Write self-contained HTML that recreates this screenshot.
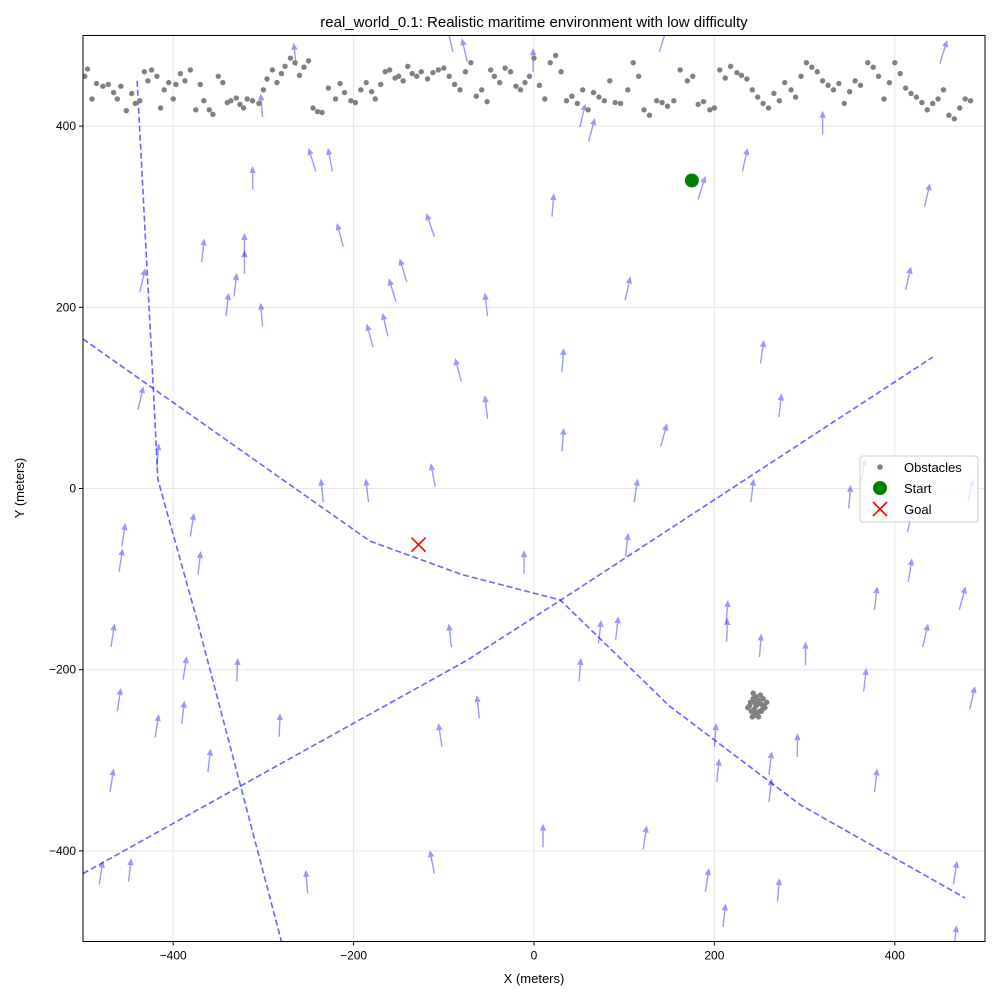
<!DOCTYPE html>
<html><head><meta charset="utf-8"><style>
body{margin:0;background:#fff;}
svg{display:block;font-family:"Liberation Sans","DejaVu Sans",sans-serif;}
</style></head><body>
<svg id="chart" width="1000" height="1000" viewBox="0 0 1000 1000" xmlns="http://www.w3.org/2000/svg">
<rect width="1000" height="1000" fill="#fff"/>
<g id="grid"></g>
<g id="plot"></g>
<rect x="83" y="35.5" width="902" height="906" fill="none" stroke="#000" stroke-width="1"/>
<g id="ticks"></g>
<text x="534" y="27" text-anchor="middle" font-size="15">real_world_0.1: Realistic maritime environment with low difficulty</text>
<text x="534" y="983" text-anchor="middle" font-size="13">X (meters)</text>
<text x="24" y="488" text-anchor="middle" font-size="13" transform="rotate(-90 24 488)">Y (meters)</text>
<g>
<rect x="860" y="456" width="118" height="66" rx="3" fill="#fff" fill-opacity="0.8" stroke="#ccc"/>
<g><circle cx="880" cy="467" r="2.8" fill="#808080"/><text x="904" y="472" font-size="13">Obstacles</text></g>
<g><circle cx="880" cy="488" r="7" fill="#008000"/><text x="904" y="493" font-size="13">Start</text></g>
<g><path d="M873,502 L887,516 M887,502 L873,516" stroke="#ff0000" stroke-width="1.6"/><text x="904" y="514" font-size="13">Goal</text></g>
</g>
</svg>
<script>
const xTicks=[-400,-200,0,200,400];
const yTicks=[-400,-200,0,200,400];
const startPt=[175,340];
const goalPt=[-128,-62];
const path1=[[-440,450],[-422,110],[-417,10],[-375,-140],[-280,-500]];
const path2=[[-500,165],[-182,-58],[-80,-95],[29,-123],[150,-240],[295,-349],[478,-452]];
const path3=[[-500,-425],[-75,-190],[30,-123],[442,145]];
const obsX=[-498,-495,-490,-485,-478,-472,-466,-462,-458,-452,-446,-442,-437,-432,-428,-424,-418,-414,-410,-405,-400,-397,-392,-387,-381,-375,-370,-366,-360,-356,-350,-345,-340,-336,-330,-326,-322,-318,-312,-305,-300,-296,-290,-285,-280,-276,-270,-265,-260,-255,-250,-245,-240,-235,-228,-220,-215,-210,-203,-198,-192,-186,-180,-176,-170,-165,-160,-154,-150,-145,-140,-135,-130,-125,-118,-112,-106,-100,-94,-88,-82,-76,-70,-64,-58,-52,-48,-44,-38,-32,-26,-20,-15,-10,-5,0,6,12,18,24,30,36,42,48,54,60,66,72,78,84,90,96,104,110,116,122,128,136,142,148,155,162,170,176,182,188,195,200,206,212,218,225,230,236,242,248,254,260,266,272,278,285,290,296,302,308,314,320,326,332,338,344,350,356,362,370,376,382,388,394,400,406,412,418,424,430,436,442,448,454,460,466,472,478,484,490,496];
const obsY=[455,463,430,447,444,446,437,430,444,417,436,425,428,460,450,462,455,420,440,448,430,446,458,450,462,418,446,428,418,413,455,448,426,428,431,424,420,430,428,425,440,452,462,448,458,466,475,470,456,465,472,420,416,415,442,430,447,437,428,426,440,448,438,430,446,460,462,453,455,450,466,458,455,460,452,459,462,464,455,446,440,460,470,433,440,427,462,455,448,464,460,444,440,448,455,475,445,430,470,478,460,428,433,425,440,418,437,432,428,450,426,425,440,470,455,418,412,428,426,422,428,462,450,455,424,427,418,420,462,453,466,459,456,452,440,432,425,420,436,428,448,440,432,455,470,465,460,450,445,440,447,425,438,450,445,470,465,455,430,448,470,458,442,436,432,426,418,425,430,440,412,408,420,430,428];
const clusterX=[237,240,243,246,249,252,255,258,241,244,247,250,253,256,239,242,245,248,251,254,243,246,249,244,252];
const clusterY=[-242,-236,-232,-230,-234,-238,-240,-236,-246,-244,-248,-246,-244,-242,-240,-252,-250,-238,-228,-232,-226,-240,-252,-236,-246];
const arrowX=[-302,-265,-226,-312,-246,-215,-115,-321,-321,-367,-331,-340,-302,-434,-182,-165,-157,-145,-84,-53,-53,-436,-417,-93,-77,-1,54,64,143,21,186,234,104,253,273,32,32,144,113,242,320,436,454,415,350,365,417,484,417,379,434,475,486,367,379,467,467,301,292,251,262,262,214,214,201,204,211,192,271,123,10,73,92,51,103,-11,-62,-104,-93,-113,-112,-185,-235,-252,-282,-329,-360,-387,-389,-418,-460,-468,-467,-458,-455,-379,-371,-448,-480];
const arrowY=[423,479,363,343,363,280,291,269,250,263,225,203,192,230,169,181,219,241,131,203,90,100,37,495,484,473,412,396,495,313,332,363,221,151,92,54,142,59,-2,-2,404,324,482,232,-9,20,-35,-2,-90,-121,-162,-121,-231,-211,-322,-424,-495,-182,-283,-173,-303,-333,-136,-156,-272,-311,-471,-432,-443,-385,-383,-158,-154,-200,-62,-81,-241,-272,-162,-412,15,-2,-2,-434,-261,-200,-300,-198,-247,-262,-233,-322,-162,-79,-51,-40,-82,-421,-424];
const arrowTilt=[-2,-3,-5,0,-8,-7,-9,0,0,3,3,3,-2,6,-7,-6,-8,-8,-7,-3,-3,6,2,-6,-6,0,6,7,8,2,8,6,6,4,3,2,2,7,4,3,0,6,8,6,2,4,6,6,4,3,6,7,6,3,3,4,3,0,0,2,3,3,2,1,2,3,3,4,2,4,0,3,3,2,3,0,-3,-4,-3,-5,-5,-3,-3,-2,1,1,3,4,3,4,4,4,4,4,4,4,3,3,4];

const NS='http://www.w3.org/2000/svg';
const X0=83,X1=985,Y0=941.5,Y1=35.5;
function sx(v){return X0+(v+500)/1000*(X1-X0);}
function sy(v){return Y0-(v+500)/1000*(Y0-Y1);}
function mk(tag,attrs,parent){const e=document.createElementNS(NS,tag);for(const k in attrs)e.setAttribute(k,attrs[k]);parent.appendChild(e);return e;}
const grid=document.getElementById('grid'),plot=document.getElementById('plot'),ticks=document.getElementById('ticks');
xTicks.forEach(t=>{
  const g=mk('line',{x1:sx(t),x2:sx(t),y1:Y1,y2:Y0,stroke:'#e6e6e6','stroke-width':1},grid);
  
  
  mk('line',{x1:sx(t),x2:sx(t),y1:Y0,y2:Y0+4,stroke:'#000'},ticks);
  const tx=mk('text',{x:sx(t),y:Y0+18,'text-anchor':'middle','font-size':12},ticks);
  tx.textContent=t<0?'\u2212'+(-t):t;
  
  
});
yTicks.forEach(t=>{
  const g=mk('line',{x1:X0,x2:X1,y1:sy(t),y2:sy(t),stroke:'#e6e6e6','stroke-width':1},grid);
  
  
  mk('line',{x1:X0-4,x2:X0,y1:sy(t),y2:sy(t),stroke:'#000'},ticks);
  const tx=mk('text',{x:X0-7,y:sy(t)+4,'text-anchor':'end','font-size':12},ticks);
  tx.textContent=t<0?'\u2212'+(-t):t;
  
  
});
const clip=mk('clipPath',{id:'clp'},plot);mk('rect',{x:X0,y:Y1,width:X1-X0,height:Y0-Y1},clip);
const inner=mk('g',{'clip-path':'url(#clp)'},plot);
for(let i=0;i<arrowX.length;i++){
  const x=arrowX[i],y=arrowY[i],t=arrowTilt[i];
  const tx=sx(x-t/2),ty=sy(y-13),hx=sx(x+t/2),hy=sy(y+13);
  const dx=hx-tx,dy=hy-ty,L=Math.hypot(dx,dy),ux=dx/L,uy=dy/L;
  const bx=hx-ux*7,by=hy-uy*7;
  const g=mk('g',{opacity:0.4},inner);
  
  
  mk('line',{x1:tx,y1:ty,x2:bx,y2:by,stroke:'#0000ff','stroke-width':1.4},g);
  mk('polygon',{points:`${hx},${hy} ${bx-uy*3.2},${by+ux*3.2} ${bx+uy*3.2},${by-ux*3.2}`,fill:'#0000ff'},g);
}
[path1,path2,path3].forEach((p,k)=>{
  const pl=mk('polyline',{points:p.map(q=>sx(q[0])+','+sy(q[1])).join(' '),fill:'none',stroke:'#0000ff','stroke-opacity':0.6,'stroke-width':1.6,'stroke-dasharray':'6,3'},inner);
  
  
});
for(let i=0;i<obsX.length;i++){
  const c=mk('circle',{cx:sx(obsX[i]),cy:sy(obsY[i]),r:2.7,fill:'#808080'},inner);
  
  
}
for(let i=0;i<clusterX.length;i++){
  const c=mk('circle',{cx:sx(clusterX[i]),cy:sy(clusterY[i]),r:2.7,fill:'#808080'},inner);
  
  
}
const st=mk('circle',{cx:sx(startPt[0]),cy:sy(startPt[1]),r:7,fill:'#008000'},inner);


const gx=sx(goalPt[0]),gy=sy(goalPt[1]);
const gl=mk('path',{d:`M${gx-7},${gy-7} L${gx+7},${gy+7} M${gx+7},${gy-7} L${gx-7},${gy+7}`,stroke:'#ff0000','stroke-width':1.6},inner);


</script>
</body></html>
